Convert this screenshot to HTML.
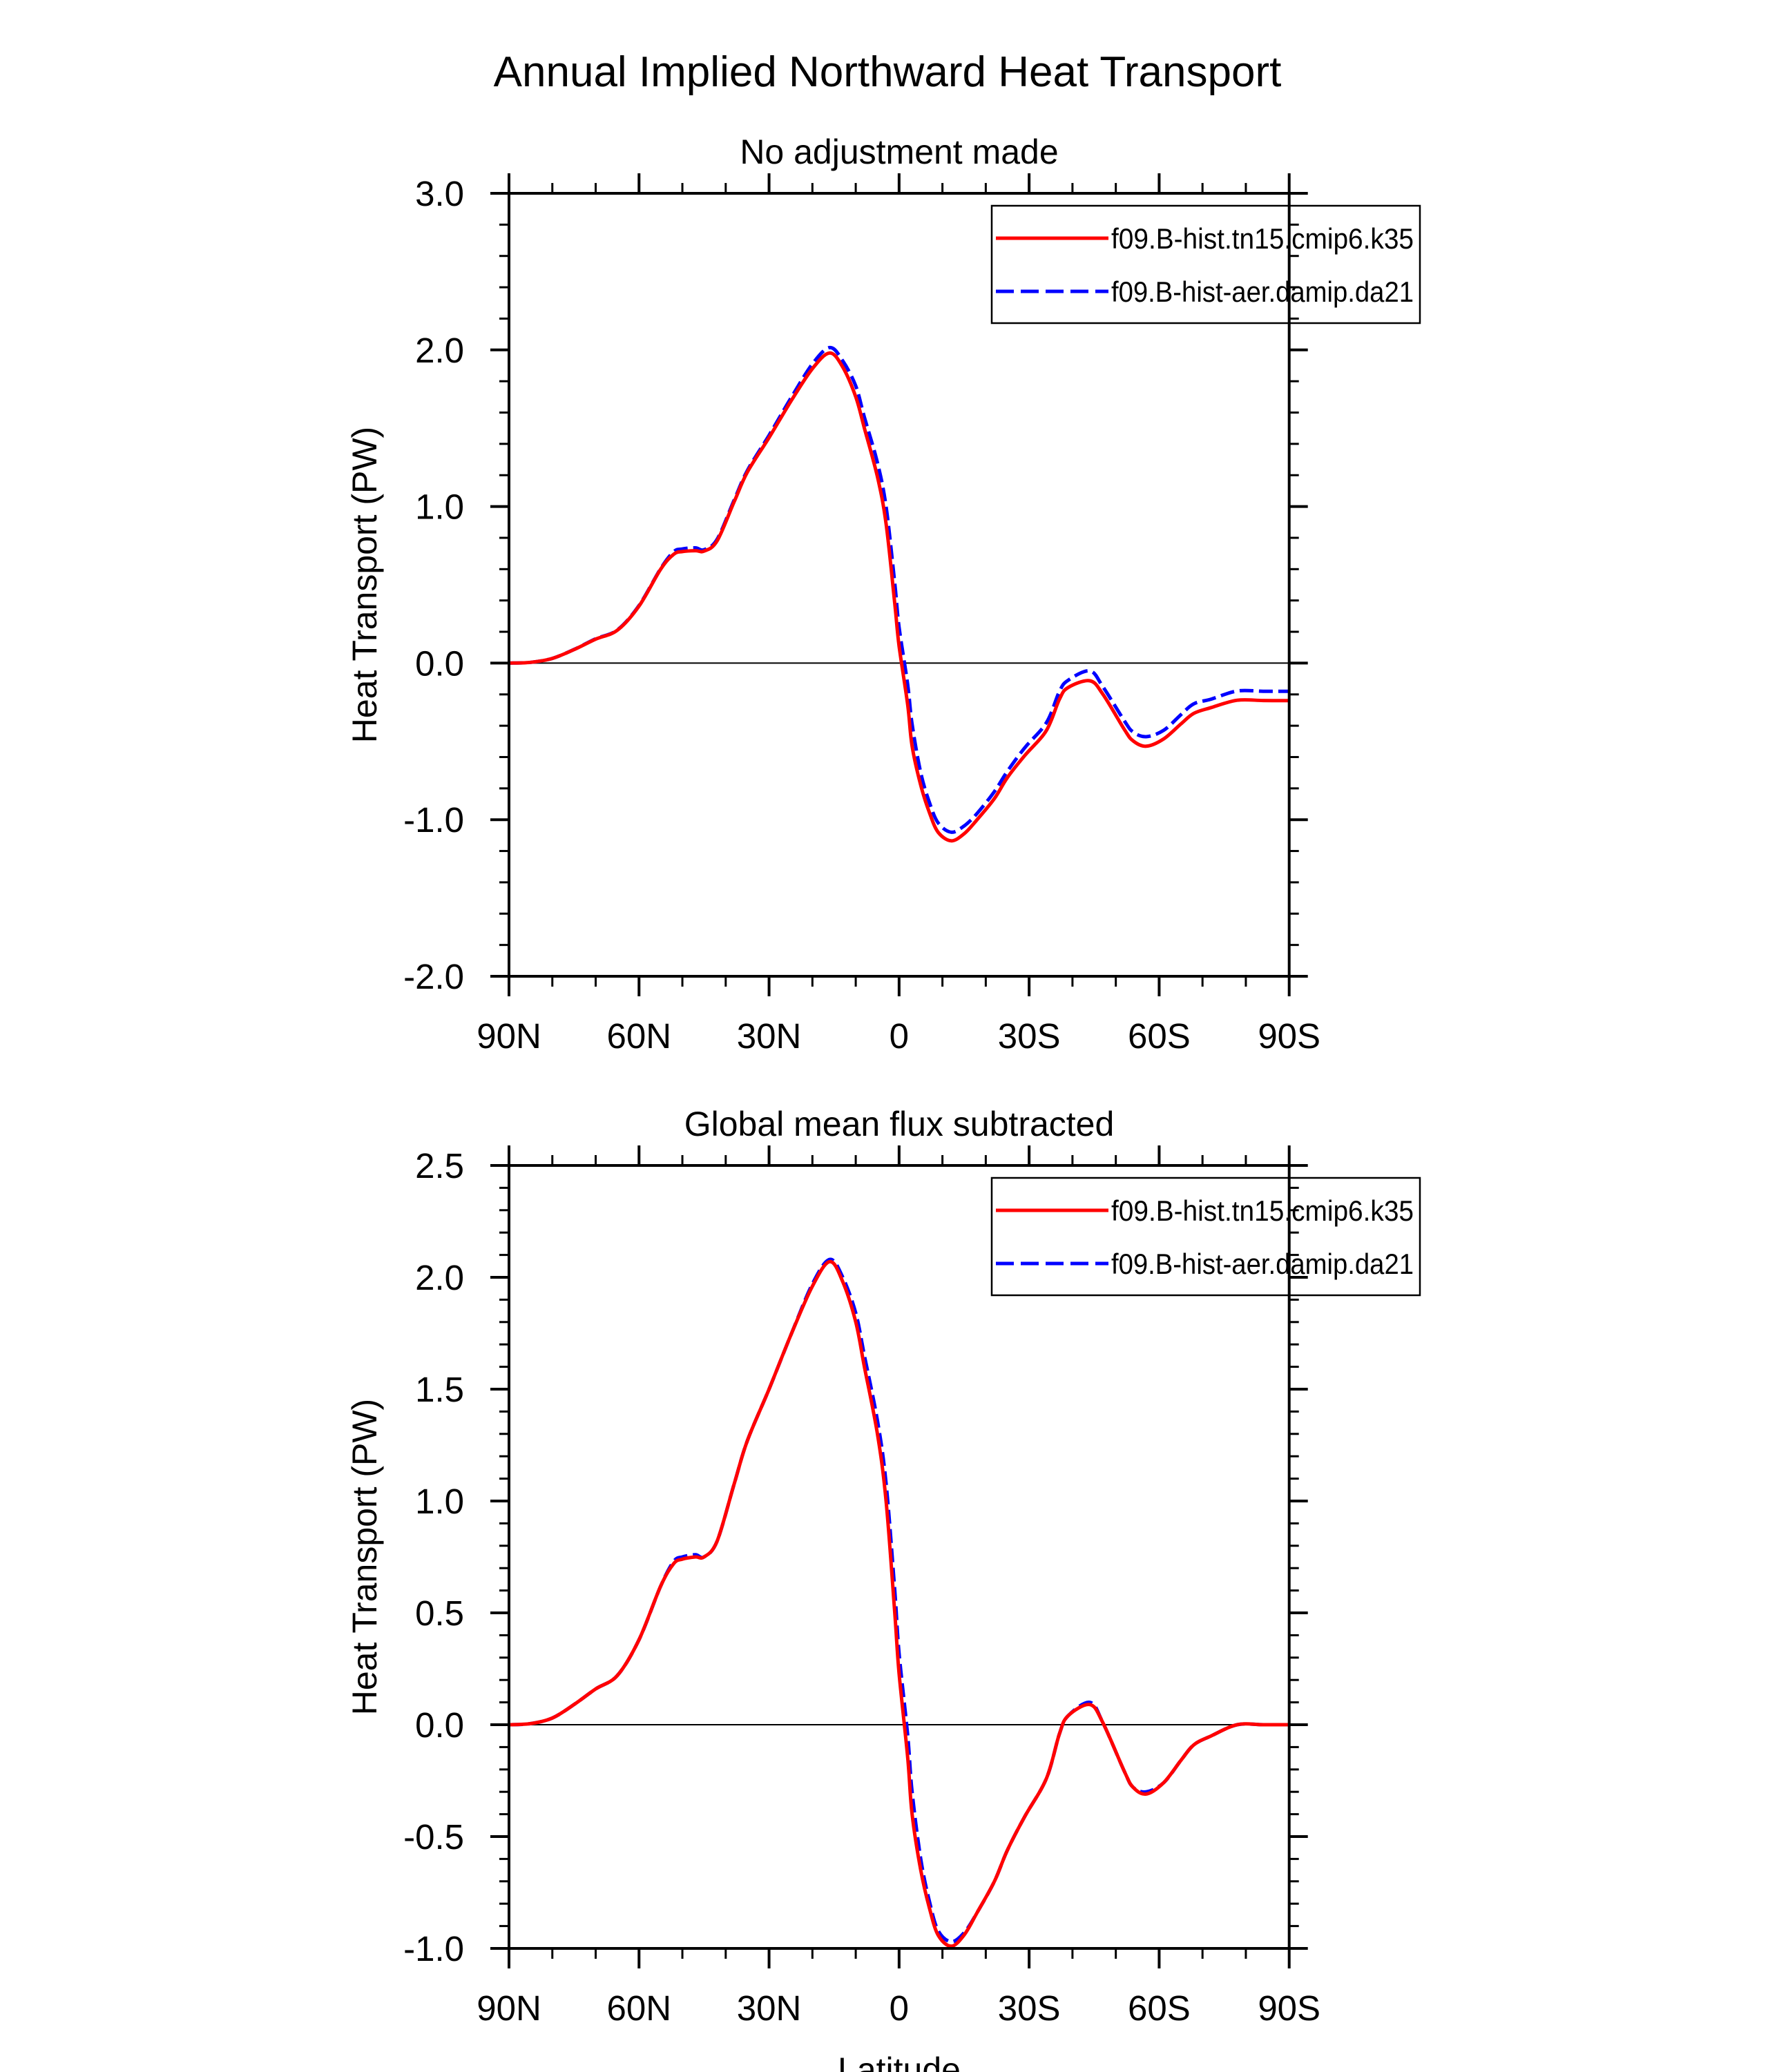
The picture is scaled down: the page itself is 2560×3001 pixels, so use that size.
<!DOCTYPE html>
<html><head><meta charset="utf-8"><style>
html,body{margin:0;padding:0;background:#fff;}
svg{display:block;font-family:"Liberation Sans",sans-serif;}
</style></head><body>
<svg id="fig" xmlns="http://www.w3.org/2000/svg" width="2560" height="3001" viewBox="0 0 2560 3001">
<text x="1285" y="125" font-size="62" text-anchor="middle">Annual Implied Northward Heat Transport</text>
</svg>
<script>
const lats = [90,85,80,75,70,65,60,55,52,50,47,45,42,38,35,30,25,20,16,13,10,8,5,3,1,0,-2,-3,-5,-7,-9,-12,-15,-18,-22,-25,-29,-34,-37,-39,-44,-47,-52,-54,-57,-61,-65,-68,-72,-78,-84,-90];
const topRed = [0,0.005,0.03,0.086,0.153,0.21,0.364,0.60,0.695,0.712,0.718,0.715,0.78,1.034,1.22,1.44,1.67,1.88,1.98,1.89,1.70,1.50,1.19,0.89,0.38,0.11,-0.27,-0.53,-0.78,-0.955,-1.08,-1.135,-1.09,-1.0,-0.865,-0.73,-0.59,-0.43,-0.23,-0.156,-0.113,-0.198,-0.425,-0.497,-0.531,-0.485,-0.389,-0.321,-0.284,-0.237,-0.239,-0.24];
const topBlue = [0,0.005,0.03,0.087,0.155,0.212,0.368,0.604,0.711,0.729,0.736,0.724,0.79,1.045,1.23,1.455,1.69,1.91,2.015,1.93,1.77,1.57,1.28,1.0,0.51,0.23,-0.14,-0.39,-0.70,-0.89,-1.02,-1.08,-1.04,-0.96,-0.82,-0.69,-0.54,-0.38,-0.18,-0.11,-0.05,-0.15,-0.37,-0.44,-0.47,-0.43,-0.33,-0.26,-0.23,-0.178,-0.18,-0.18];
const botRed = [0,0.005,0.03,0.09,0.16,0.22,0.38,0.62,0.72,0.74,0.75,0.75,0.82,1.08,1.27,1.5,1.74,1.96,2.07,1.98,1.8,1.6,1.3,1.0,0.5,0.23,-0.15,-0.4,-0.65,-0.82,-0.94,-0.99,-0.94,-0.84,-0.7,-0.56,-0.41,-0.24,-0.04,0.04,0.09,0.01,-0.21,-0.28,-0.31,-0.26,-0.16,-0.09,-0.05,0,0,0];
const botBlue = [0,0.005,0.03,0.09,0.16,0.22,0.38,0.62,0.73,0.75,0.76,0.75,0.82,1.08,1.27,1.5,1.74,1.97,2.08,2.0,1.84,1.65,1.36,1.08,0.6,0.32,-0.05,-0.3,-0.6,-0.79,-0.92,-0.97,-0.93,-0.84,-0.7,-0.56,-0.41,-0.24,-0.04,0.04,0.10,0.01,-0.21,-0.28,-0.30,-0.26,-0.16,-0.09,-0.05,0,0,0];
const xTickVals = [90,60,30,0,-30,-60,-90];
const xTickLabels = ["90N","60N","30N","0","30S","60S","90S"];
const topYTicks = [3.0,2.0,1.0,0.0,-1.0,-2.0];
const topYLabels = ["3.0","2.0","1.0","0.0","-1.0","-2.0"];
const botYTicks = [2.5,2.0,1.5,1.0,0.5,0.0,-0.5,-1.0];
const botYLabels = ["2.5","2.0","1.5","1.0","0.5","0.0","-0.5","-1.0"];
const legendNames = ["f09.B-hist.tn15.cmip6.k35","f09.B-hist-aer.damip.da21"];

const NS="http://www.w3.org/2000/svg";
const svg=document.getElementById('fig');
function mk(tag,attrs,parent){const e=document.createElementNS(NS,tag);for(const k in attrs)e.setAttribute(k,attrs[k]);(parent||svg).appendChild(e);return e;}

function panel(cfg){
  const X0=737,X1=1866.7,Y0=cfg.top,Y1=cfg.top+1134;
  const g=mk('g',{});
  
  
  const xs=lat=>X0+(90-lat)/180*(X1-X0);
  const ys=v=>Y0+(cfg.ymax-v)/(cfg.ymax-cfg.ymin)*(Y1-Y0);
  const st=mk('text',{x:1302,y:Y0-43,'font-size':50,'text-anchor':'middle'},g);
  st.textContent=cfg.subtitle;
  
  
  const zl=mk('line',{x1:X0,x2:X1,y1:ys(0),y2:ys(0),stroke:'#000','stroke-width':2},g);
  
  
  function path(vals){
    const p=lats.map((l,i)=>[xs(l),ys(vals[i])]);
    let d='M'+p[0][0].toFixed(1)+','+p[0][1].toFixed(1);
    for(let i=0;i<p.length-1;i++){
      const a=p[Math.max(i-1,0)],b=p[i],c=p[i+1],e=p[Math.min(i+2,p.length-1)];
      const c1=[b[0]+(c[0]-a[0])/6,b[1]+(c[1]-a[1])/6],c2=[c[0]-(e[0]-b[0])/6,c[1]-(e[1]-b[1])/6];
      d+='C'+c1[0].toFixed(1)+','+c1[1].toFixed(1)+' '+c2[0].toFixed(1)+','+c2[1].toFixed(1)+' '+c[0].toFixed(1)+','+c[1].toFixed(1);
    }
    return d;
  }
  const bl=mk('path',{d:path(cfg.blue),fill:'none',stroke:'#0000ff','stroke-width':5,'stroke-dasharray':'20 8'},g);
  
  
  const rl=mk('path',{d:path(cfg.red),fill:'none',stroke:'#ff0000','stroke-width':5},g);
  
  
  const LY=Y0+18;
  const lb=mk('rect',{x:1436,y:LY,width:620,height:170,fill:'none',stroke:'#000','stroke-width':2.5},g);
  
  
  const cols=['#ff0000','#0000ff'];
  legendNames.forEach((n,i)=>{
    const yy=LY+47+i*77;
    const ll=mk('line',{x1:1442,x2:1605,y1:yy,y2:yy,stroke:cols[i],'stroke-width':5,'stroke-dasharray':i?'26 10':'none'},g);
    
    
    const t=mk('text',{x:1609,y:yy+15,'font-size':42,textLength:438,lengthAdjust:'spacingAndGlyphs'},g);
    t.textContent=n;
    
    
  });
  const fr=mk('rect',{x:X0,y:Y0,width:X1-X0,height:Y1-Y0,fill:'none',stroke:'#000','stroke-width':4},g);
  
  
  for(let l=90;l>=-90;l-=10){
    const maj=l%30===0,len=maj?29:15,x=xs(l);
    mk('line',{x1:x,x2:x,y1:Y0,y2:Y0-len,stroke:'#000','stroke-width':maj?4:3},g);
    mk('line',{x1:x,x2:x,y1:Y1,y2:Y1+len,stroke:'#000','stroke-width':maj?4:3},g);
  }
  xTickVals.forEach((v,i)=>{
    const t=mk('text',{x:xs(v),y:Y1+104,'font-size':51,'text-anchor':'middle'},g);
    t.textContent=xTickLabels[i];
    
    
  });
  const nMinor=Math.round((cfg.ymax-cfg.ymin)/cfg.minor);
  for(let k=0;k<=nMinor;k++){
    const v=cfg.ymax-k*cfg.minor,y=ys(v);
    const maj=Math.abs(v/cfg.major-Math.round(v/cfg.major))<1e-6,len=maj?27:14;
    mk('line',{x1:X0,x2:X0-len,y1:y,y2:y,stroke:'#000','stroke-width':maj?4:3},g);
    mk('line',{x1:X1,x2:X1+len,y1:y,y2:y,stroke:'#000','stroke-width':maj?4:3},g);
  }
  cfg.yt.forEach((v,i)=>{
    const t=mk('text',{x:672,y:ys(v)+18,'font-size':51,'text-anchor':'end'},g);
    t.textContent=cfg.yl[i];
    
    
  });
  const yc=(Y0+Y1)/2;
  const yt=mk('text',{x:545,y:yc,'font-size':50,'text-anchor':'middle',transform:'rotate(-90 545 '+yc+')'},g);
  yt.textContent='Heat Transport (PW)';
  
  
}
panel({name:'panel-no-adjustment',top:280,ymax:3,ymin:-2,major:1,minor:0.2,yt:topYTicks,yl:topYLabels,red:topRed,blue:topBlue,subtitle:'No adjustment made'});
panel({name:'panel-global-mean-subtracted',top:1688,ymax:2.5,ymin:-1,major:0.5,minor:0.1,yt:botYTicks,yl:botYLabels,red:botRed,blue:botBlue,subtitle:'Global mean flux subtracted'});
const xt=mk('text',{x:1302,y:3015,'font-size':50,'text-anchor':'middle'});
xt.textContent='Latitude';


</script>
</body></html>
